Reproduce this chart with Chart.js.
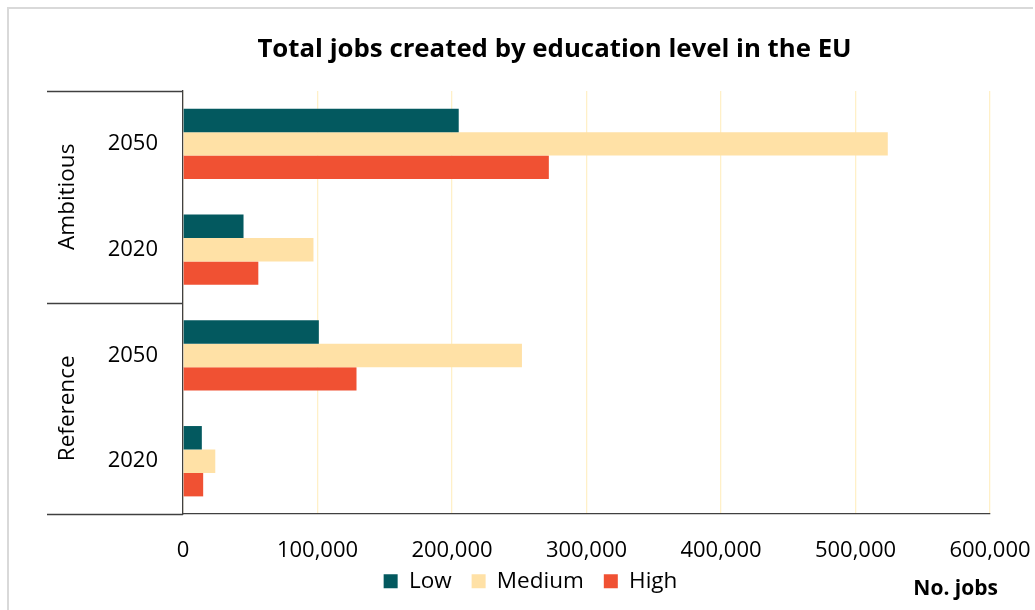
<!DOCTYPE html>
<html>
<head>
<meta charset="utf-8">
<script src="https://cdn.jsdelivr.net/npm/chart.js@4/dist/chart.umd.min.js"></script>
<style>
  html, body { margin: 0; padding: 0; background: #ffffff; }
  #wrap { position: relative; width: 1035px; height: 610px; overflow: hidden; }
  #frame { position: absolute; left: 7px; top: 7px; width: 1026px; height: 620px;
           border-left: 2px solid #d9d9d9; border-top: 2px solid #d9d9d9; box-sizing: border-box; }
  canvas { position: absolute; left: 0; top: 0; }
</style>
</head>
<body>
<div id="wrap">
  <div id="frame"></div>
  <canvas id="chart" width="1035" height="610"></canvas>
</div>
<script>
// Years shown on the category axis, and the scenario each row belongs to
const yearLabels = ['2050', '2020', '2050', '2020'];
const scenarioLabels = ['Ambitious', 'Ambitious', 'Reference', 'Reference'];

// Jobs created per education level
const lowJobs = [205000, 45000, 101000, 14000];
const mediumJobs = [524000, 97000, 252000, 24000];
const highJobs = [272000, 56000, 129000, 15000];

const FONT = "'Open Sans', 'DejaVu Sans', sans-serif";
const LINE = '#404040';
const LEGEND_PAD = 20;

// Places the legend row under the tick labels
const legendPlacement = {
  id: 'legendPlacement',
  afterLayout(chart) {
    const lg = chart.legend;
    if (!lg) return;
    const h = lg.bottom - lg.top;
    const w = lg.right - lg.left;
    const top = chart.chartArea.bottom + 36;
    const cx = (chart.chartArea.left + chart.chartArea.right) / 2 - 56;
    lg.top = top; lg.bottom = top + h;
    lg.left = cx - w / 2; lg.right = cx + w / 2;
  }
};

// Draws the title, the scenario brackets on the left and the unit label
const decorations = {
  id: 'decorations',
  afterDraw(chart) {
    const { ctx, chartArea, scales } = chart;
    const y = scales.y;
    const left = chartArea.left - y.width;
    ctx.save();

    // title
    ctx.fillStyle = '#000';
    ctx.font = "bold 25.8px " + FONT;
    ctx.textAlign = 'center';
    ctx.textBaseline = 'middle';
    ctx.fillText('Total jobs created by education level in the EU', (left + chartArea.right) / 2 + 36, 50);

    // scenario group separators
    ctx.strokeStyle = LINE;
    ctx.lineWidth = 1.3;
    const boundaries = [chartArea.top];
    for (let i = 1; i < yearLabels.length; i++) {
      if (scenarioLabels[i] !== scenarioLabels[i - 1]) {
        boundaries.push((y.getPixelForValue(i - 1) + y.getPixelForValue(i)) / 2);
      }
    }
    boundaries.push(chartArea.bottom);
    boundaries.forEach(b => {
      ctx.beginPath();
      ctx.moveTo(left, Math.round(b) + 0.5);
      ctx.lineTo(chartArea.left, Math.round(b) + 0.5);
      ctx.stroke();
    });

    // scenario names, rotated
    ctx.font = "22.5px " + FONT;
    ctx.fillStyle = '#000';
    let start = 0;
    for (let i = 1; i <= yearLabels.length; i++) {
      if (i === yearLabels.length || scenarioLabels[i] !== scenarioLabels[start]) {
        const top = start === 0 ? chartArea.top : (y.getPixelForValue(start - 1) + y.getPixelForValue(start)) / 2;
        const bottom = i === yearLabels.length ? chartArea.bottom : (y.getPixelForValue(i - 1) + y.getPixelForValue(i)) / 2;
        ctx.save();
        ctx.translate(left + 21, (top + bottom) / 2);
        ctx.rotate(-Math.PI / 2);
        ctx.textAlign = 'center';
        ctx.textBaseline = 'middle';
        ctx.fillText(scenarioLabels[start], 0, 0);
        ctx.restore();
        start = i;
      }
    }

    // unit label
    ctx.font = "bold 21px " + FONT;
    ctx.textAlign = 'right';
    ctx.textBaseline = 'middle';
    ctx.fillText('No. jobs', chartArea.right + 8, chartArea.bottom + 75);
    ctx.restore();
  }
};

new Chart(document.getElementById('chart'), {
  type: 'bar',
  data: {
    labels: yearLabels,
    datasets: [
      { label: 'Low', data: lowJobs, backgroundColor: '#03595f' },
      { label: 'Medium', data: mediumJobs, backgroundColor: '#ffe1a6' },
      { label: 'High', data: highJobs, backgroundColor: '#f05133' }
    ]
  },
  options: {
    indexAxis: 'y',
    responsive: false,
    animation: false,
    devicePixelRatio: 1,
    categoryPercentage: 0.665,
    barPercentage: 1.0,
    layout: { padding: { top: 91, left: 47, right: 45, bottom: -29 } },
    scales: {
      x: {
        min: 0,
        max: 600000,
        ticks: {
          stepSize: 100000,
          padding: 23,
          color: '#000',
          font: { family: FONT, size: 22 },
          callback: v => v.toLocaleString('en-US')
        },
        grid: { color: '#fff0c8', lineWidth: 1.3, drawTicks: false },
        border: { display: true, color: LINE, width: 1.3 },
        afterFit(scale) { scale.paddingRight = 0; }
      },
      y: {
        ticks: { padding: 17, color: '#000', font: { family: FONT, size: 22 } },
        grid: { display: false },
        border: { display: true, color: LINE, width: 1.3 },
        afterFit(scale) { scale.width = 136; }
      }
    },
    plugins: {
      title: { display: false },
      tooltip: { enabled: false },
      legend: {
        position: 'bottom',
        labels: {
          boxWidth: 14,
          boxHeight: 14,
          padding: LEGEND_PAD,
          color: '#000',
          font: { family: FONT, size: 22.5 }
        }
      }
    }
  },
  plugins: [legendPlacement, decorations]
});
</script>
</body>
</html>
